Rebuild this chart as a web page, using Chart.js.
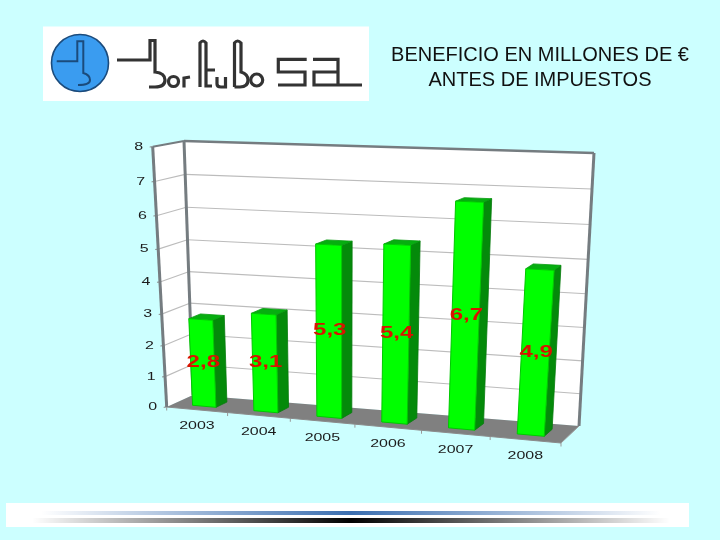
<!DOCTYPE html>
<html lang="es">
<head>
<meta charset="utf-8">
<title>Beneficio en millones de €</title>
<script src="https://cdn.jsdelivr.net/npm/chart.js@4"></script>
<style>
html,body{margin:0;padding:0;background:#CCFFFF;width:720px;height:540px;overflow:hidden}
#c{position:absolute;left:0;top:0}
#logo{position:absolute;left:0;top:0}
#title{position:absolute;left:380px;top:41.5px;width:320px;text-align:center;font:20px/25px "Liberation Sans",Arial,sans-serif;color:#111;white-space:nowrap}
#foot{position:absolute;left:6px;top:503px;width:683px;height:23.5px;background:#fff}
#foot .b{position:absolute;left:35px;top:7.5px;width:620px;height:4.5px;background:linear-gradient(90deg,rgba(58,110,176,0),#3A6EB0 50%,rgba(58,110,176,0))}
#foot .k{position:absolute;left:26px;top:15px;width:638px;height:4.5px;background:linear-gradient(90deg,rgba(0,0,0,0),#000 50%,rgba(0,0,0,0))}
</style>
</head>
<body>
<canvas id="c" width="720" height="540"></canvas>
<svg id="logo" width="720" height="110" viewBox="0 0 720 110" role="img" aria-label="Bortubo SA">
  <rect x="43" y="26.5" width="326" height="74.5" fill="#fff"/>
  <circle cx="80" cy="63" r="28.5" fill="#3A9CF0" stroke="#1B4B7C" stroke-width="1.6"/>
  <path d="M56.7 61.3H77.3V41.3H83.3V73Q90 75 90 80Q90 85 78 85" fill="none" stroke="#1B4B7C" stroke-width="2"/>
  <g fill="none" stroke="#333" stroke-width="3.2">
    <path d="M117 60H150V40.5H155V72Q165 73 165 80Q165 87 155 87H149"/>
    <circle cx="173.5" cy="81.5" r="5"/>
    <path d="M184 87.5V78L190 77"/>
    <path d="M200 87V43Q203 39 206 43V86H212M206 70H215"/>
    <path d="M217 77V84Q217 87 221 87H225.5V77"/>
    <path d="M234.5 87V43Q237.5 39 241 43V72Q248 74 248 80Q248 87 240 87H234.5"/>
    <circle cx="256.7" cy="80" r="6"/>
    <path d="M306.7 59.3H278.3V72H305V85H278"/>
    <path d="M313 59.3H338V85H314V72H338M338 85H362"/>
  </g>
</svg>
<div id="title">BENEFICIO EN MILLONES DE €<br>ANTES DE IMPUESTOS</div>
<div id="foot"><div class="b"></div><div class="k"></div></div>
<script>
const categories = ['2003','2004','2005','2006','2007','2008'];
const beneficio = [2.8,3.1,5.3,5.4,6.7,4.9];
const yMax = 8;

// perspective frame of the chart: front plane and back plane corners
const frontQuad = [[166.7,407],[561,443],[581,159],[152.7,146.7]];
const backQuad  = [[193,395],[579,426],[594,153],[184,141]];
const barZFront = 0.28, barZBack = 0.70;

function homography(q){
  const [[x0,y0],[x1,y1],[x2,y2],[x3,y3]] = q;
  const sx=x0-x1+x2-x3, sy=y0-y1+y2-y3, dx1=x1-x2, dx2=x3-x2, dy1=y1-y2, dy2=y3-y2;
  const den=dx1*dy2-dx2*dy1;
  const g=(sx*dy2-dx2*sy)/den, h=(dx1*sy-sx*dy1)/den;
  const a=x1-x0+g*x1, b=x3-x0+h*x3, d=y1-y0+g*y1, e=y3-y0+h*y3;
  return (u,v)=>{const w=g*u+h*v+1; return [(a*u+b*v+x0)/w,(d*u+e*v+y0)/w];};
}
const HF=homography(frontQuad), HB=homography(backQuad);
function proj(u,v,z){const f=HF(u,v), b=HB(u,v); return [f[0]+(b[0]-f[0])*z, f[1]+(b[1]-f[1])*z];}

let area={left:0,right:720,top:0,bottom:540};
const nx=px=>(px-area.left)/(area.right-area.left);
const ny=py=>(area.bottom-py)/(area.bottom-area.top);

function poly(ctx,pts,fill,stroke,lw){
  ctx.beginPath();pts.forEach((p,i)=>i?ctx.lineTo(p[0],p[1]):ctx.moveTo(p[0],p[1]));ctx.closePath();
  if(fill){ctx.fillStyle=fill;ctx.fill();}
  if(stroke){ctx.strokeStyle=stroke;ctx.lineWidth=lw||1;ctx.lineJoin='round';ctx.stroke();}
}
function line(ctx,a,b,c,w){ctx.beginPath();ctx.moveTo(a[0],a[1]);ctx.lineTo(b[0],b[1]);ctx.strokeStyle=c;ctx.lineWidth=w;ctx.stroke();}
function wideText(ctx,t,x,y,font,color,sx){
  ctx.save();ctx.translate(x,y);ctx.scale(sx,1);ctx.font=font;ctx.fillStyle=color;ctx.textAlign='center';ctx.textBaseline='middle';ctx.fillText(t,0,0);ctx.restore();
}

// Bars stay Chart.js elements; they only project themselves into the perspective frame
const BarEl = Chart.BarElement || Chart.registry.getElement('bar');
BarEl.prototype.draw = function(ctx){
  const l=nx(this.x-this.width/2), r=nx(this.x+this.width/2), t=ny(this.y), b=ny(this.base);
  const zf=barZFront, zb=barZBack;
  ctx.save();
  poly(ctx,[proj(r,b,zf),proj(r,b,zb),proj(r,t,zb),proj(r,t,zf)],'#048A0A','#067A0C',0.8);
  poly(ctx,[proj(l,t,zf),proj(r,t,zf),proj(r,t,zb),proj(l,t,zb)],'#06AE10','#069A0E',0.8);
  poly(ctx,[proj(l,b,zf),proj(r,b,zf),proj(r,t,zf),proj(l,t,zf)],'#00FF00','#00C800',1);
  ctx.restore();
};

const frame3d={
  id:'frame3d',
  beforeDatasetsDraw(chart){
    area=chart.chartArea;
    const ctx=chart.ctx, xs=chart.scales.x, ys=chart.scales.y;
    ctx.save();
    poly(ctx,[proj(0,0,1),proj(1,0,1),proj(1,1,1),proj(0,1,1)],'#fff');
    poly(ctx,[proj(0,0,0),proj(0,0,1),proj(0,1,1),proj(0,1,0)],'#fff');
    poly(ctx,[proj(0,0,0),proj(1,0,0),proj(1,0,1),proj(0,0,1)],'#808080');
    const grid='#BCBCBC', edge='#757C80', txt='#1c1c1c';
    ys.ticks.forEach(tk=>{
      const v=ny(ys.getPixelForValue(tk.value));
      if(tk.value>0 && tk.value<yMax){
        line(ctx,proj(0,v,0),proj(0,v,1),grid,1.1);
        line(ctx,proj(0,v,1),proj(1,v,1),grid,1.1);
      }
      const p=proj(0,v,0);
      line(ctx,p,[p[0]-3,p[1]+0.3],'#888',1);
      wideText(ctx,String(tk.value),p[0]-14,p[1],'11px "Liberation Sans",Arial,sans-serif',txt,1.45);
    });
    for(let i=0;i<=categories.length;i++){
      const p=proj(i/categories.length,0,0);
      line(ctx,p,[p[0],p[1]+3.5],'#999',1);
    }
    categories.forEach((c,i)=>{
      const p=proj(nx(xs.getPixelForValue(i)),0,0);
      wideText(ctx,c,p[0],p[1]+16.5,'11px "Liberation Sans",Arial,sans-serif',txt,1.45);
    });
    line(ctx,proj(0,0,0),proj(1,0,0),'#8a8a8a',1);
    line(ctx,proj(1,0,0),proj(1,0,1),'#9a9a9a',1);
    line(ctx,proj(0,0,0),proj(0,1,0),edge,3);
    line(ctx,proj(0,1,0),proj(0,1,1),edge,2);
    line(ctx,proj(0,1,1),proj(1,1,1),edge,2.4);
    line(ctx,proj(0,0,1),proj(0,1,1),edge,3);
    line(ctx,proj(1,0,1),proj(1,1,1),edge,3);
    ctx.restore();
  },
  afterDatasetsDraw(chart){
    const ctx=chart.ctx, meta=chart.getDatasetMeta(0);
    meta.data.forEach((el,i)=>{
      const u=nx(el.x), a=proj(u,ny(el.y),barZFront), b=proj(u,ny(el.base),barZFront);
      const t=String(chart.data.datasets[0].data[i]).replace('.',',');
      wideText(ctx,t,(a[0]+b[0])/2+0.8,(a[1]+b[1])/2,'bold 16px "Liberation Sans",Arial,sans-serif','#D81400',1.5);
    });
  }
};

new Chart(document.getElementById('c'),{
  type:'bar',
  data:{labels:categories,datasets:[{label:'Beneficio',data:beneficio,backgroundColor:'#00FF00',categoryPercentage:1,barPercentage:0.385}]},
  options:{
    responsive:false,animation:false,
    layout:{padding:0},
    plugins:{legend:{display:false},title:{display:false},tooltip:{enabled:false}},
    scales:{
      x:{display:false},
      y:{display:false,min:0,max:yMax,ticks:{stepSize:1}}
    }
  },
  plugins:[frame3d]
});
</script>
</body>
</html>
